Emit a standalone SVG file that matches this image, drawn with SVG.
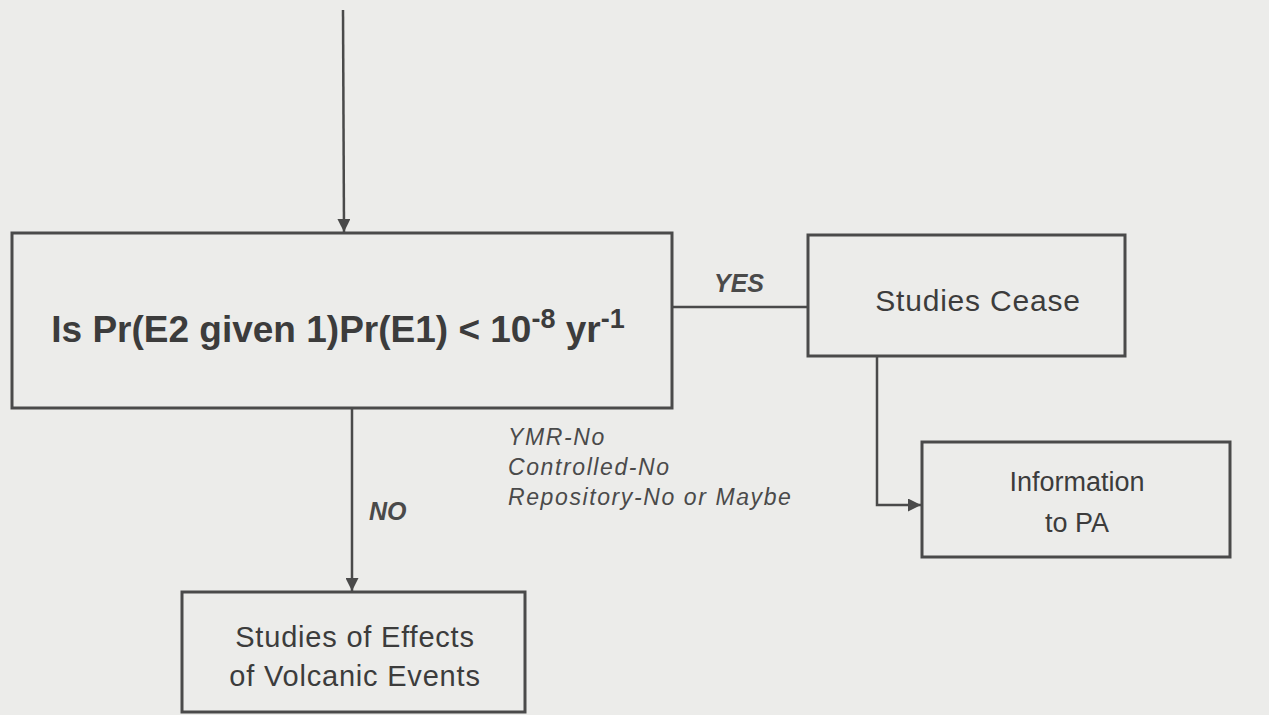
<svg xmlns="http://www.w3.org/2000/svg" width="1269" height="715" viewBox="0 0 1269 715">
<defs>
<marker id="arr" viewBox="0 0 10 10" refX="10" refY="5" markerWidth="13" markerHeight="13" markerUnits="userSpaceOnUse" orient="auto">
<path d="M0,0 L10,5 L0,10 z" fill="#4a4a4a"/>
</marker>
</defs>
<style>
.box{fill:none;stroke:#4a4a4a;stroke-width:3}
.ln{fill:none;stroke:#4a4a4a;stroke-width:2.5}
.t{font-family:"Liberation Sans",Arial,sans-serif;fill:#3c3c3c;text-anchor:middle}
.lbl{font-family:"Liberation Sans",Arial,sans-serif;fill:#4a4a4a;font-style:italic}
</style>
<rect width="1269" height="715" fill="#ececea"/>
<g id="connectors">
<line class="ln" x1="343" y1="10" x2="344" y2="232" marker-end="url(#arr)"/>
<line class="ln" x1="672" y1="307" x2="808" y2="307"/>
<line class="ln" x1="352" y1="409" x2="352" y2="591" marker-end="url(#arr)"/>
<polyline class="ln" points="877,357 877,505 921,505" marker-end="url(#arr)"/>
<text class="lbl" x="714" y="292" font-size="25" font-weight="bold">YES</text>
<text class="lbl" x="369" y="520" font-size="25" font-weight="bold">NO</text>
<text class="lbl" x="508" y="445" font-size="23" letter-spacing="1.6">YMR-No</text>
<text class="lbl" x="508" y="475" font-size="23" letter-spacing="1.6">Controlled-No</text>
<text class="lbl" x="508" y="505" font-size="23" letter-spacing="1.6">Repository-No or Maybe</text>
</g>
<g id="decision">
<rect class="box" x="12" y="233" width="660" height="175"/>
<text class="t" x="338" y="342" font-size="37" font-weight="bold">Is Pr(E2 given 1)Pr(E1) &lt; 10<tspan dy="-14" font-size="27">-8</tspan><tspan dy="14"> yr</tspan><tspan dy="-14" font-size="27">-1</tspan></text>
</g>
<g id="studies-cease">
<rect class="box" x="808" y="235" width="317" height="121"/>
<text class="t" x="978" y="311" font-size="30" letter-spacing="0.8">Studies Cease</text>
</g>
<g id="information">
<rect class="box" x="922" y="442" width="308" height="115"/>
<text class="t" x="1077" y="491" font-size="27">Information</text>
<text class="t" x="1077" y="532" font-size="27">to PA</text>
</g>
<g id="effects">
<rect class="box" x="182" y="592" width="343" height="120"/>
<text class="t" x="355" y="647" font-size="29" letter-spacing="0.8">Studies of Effects</text>
<text class="t" x="355" y="686" font-size="29" letter-spacing="0.8">of Volcanic Events</text>
</g>
</svg>
